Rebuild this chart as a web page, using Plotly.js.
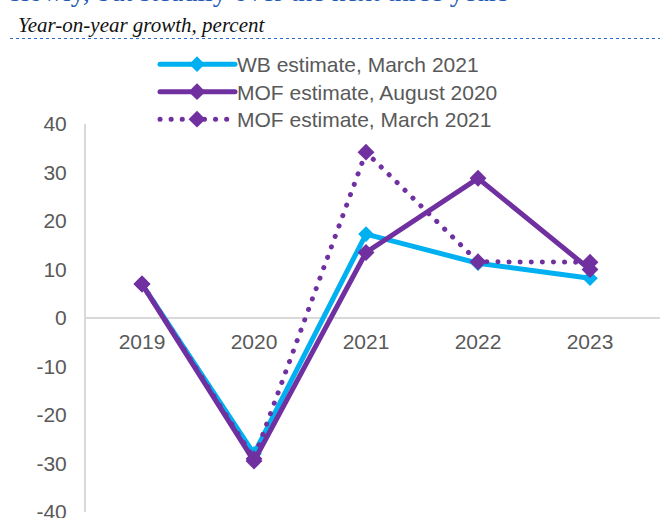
<!DOCTYPE html>
<html>
<head>
<meta charset="utf-8">
<script src="https://cdn.plot.ly/plotly-3.0.1.min.js"></script>
<style>
html, body { margin: 0; padding: 0; overflow: hidden; background: #fff; }
#chart { width: 660px; height: 560px; }
.scatterlayer .js-line, .legendlines .js-line { stroke-linecap: round; }
</style>
</head>
<body>
<div id="chart"></div>
<script>
const years = ['2019', '2020', '2021', '2022', '2023'];
const wbMar2021 = [7, -28, 17.3, 11.3, 8.2];
const mofAug2020 = [7, -29.5, 13.5, 28.8, 10];
const mofMar2021 = [7, -29, 34.2, 11.6, 11.5];
const seriesNames = ['WB estimate, March 2021', 'MOF estimate, August 2020', 'MOF estimate, March 2021'];
const yTicks = [-40, -30, -20, -10, 0, 10, 20, 30, 40];
const headline = 'slowly, but steadily over the next three years';
const subtitle = 'Year-on-year growth, percent';

const cyan = '#00B0F0';
const purple = '#7030A0';
const gray = '#595959';
const FS = 21;

const traces = [
  {
    x: years, y: wbMar2021, name: seriesNames[0], type: 'scatter', mode: 'lines+markers',
    line: { color: cyan, width: 5 },
    marker: { symbol: 'diamond', size: 12, color: cyan }
  },
  {
    x: years, y: mofAug2020, name: seriesNames[1], type: 'scatter', mode: 'lines+markers',
    line: { color: purple, width: 5 },
    marker: { symbol: 'diamond', size: 13, color: purple }
  },
  {
    x: years, y: mofMar2021, name: seriesNames[2], type: 'scatter', mode: 'lines+markers',
    line: { color: purple, width: 5, dash: '0.1px,11px' },
    marker: { symbol: 'diamond', size: 13, color: purple }
  }
];

const layout = {
  width: 660, height: 560,
  margin: { l: 86, r: 0, t: 124, b: 48 },
  paper_bgcolor: '#fff', plot_bgcolor: '#fff',
  font: { family: '"Liberation Sans", Arial, sans-serif', size: FS, color: gray },
  showlegend: true,
  legend: {
    x: (197 - 86) / 574, y: 1 + (124 - 44) / 388, xanchor: 'left', yanchor: 'top',
    font: { family: '"Liberation Sans", Arial, sans-serif', size: FS, color: gray },
    bgcolor: 'rgba(0,0,0,0)', itemwidth: 30, borderwidth: 0
  },
  xaxis: {
    type: 'category', range: [-0.5, 4.625],
    showline: false, showgrid: false, zeroline: false, ticks: '',
    anchor: 'free', position: 0.5,
    tickfont: { size: FS, color: gray },
    ticklabelstandoff: 9,
    fixedrange: true
  },
  yaxis: {
    range: [-40, 40], tickvals: yTicks, ticktext: yTicks.map(String),
    showline: true, linecolor: '#D9D9D9', linewidth: 2,
    showgrid: false, zeroline: true, zerolinecolor: '#D9D9D9', zerolinewidth: 2,
    ticks: '', tickfont: { size: FS, color: gray },
    ticklabelstandoff: 13,
    fixedrange: true
  },
  shapes: [
    { type: 'line', xref: 'paper', yref: 'paper', x0: -76 / 574, x1: 1, y0: 1 + (124 - 38.5) / 388, y1: 1 + (124 - 38.5) / 388,
      line: { color: '#2E6BC6', width: 1, dash: 'dot' } }
  ],
  annotations: [
    { text: headline, xref: 'paper', yref: 'paper', x: -78 / 574, y: 1 + (124 - 9.5) / 388,
      xanchor: 'left', yanchor: 'bottom', showarrow: false,
      font: { family: '"Liberation Serif", "Times New Roman", serif', size: 28, color: '#1F5AB4' } },
    { text: '<i>' + subtitle + '</i>', xref: 'paper', yref: 'paper', x: -70 / 574, y: 1 + (124 - 25) / 388,
      xanchor: 'left', yanchor: 'middle', showarrow: false,
      font: { family: '"Liberation Serif", "Times New Roman", serif', size: 21, color: '#111' } }
  ]
};

Plotly.newPlot('chart', traces, layout, { staticPlot: true, displayModeBar: false }).then(function (gd) {
  // Excel-style legend: longer swatches with the marker centred, tighter rows
  gd.querySelectorAll('.legend [clip-path]').forEach(function (el) { el.removeAttribute('clip-path'); });
  gd.querySelectorAll('.legend .legendlines path').forEach(function (p) { p.setAttribute('d', 'M-37,0h75'); });
  gd.querySelectorAll('.legend .legendpoints path').forEach(function (p) { p.setAttribute('transform', 'translate(0,0)'); });
  const items = gd.querySelectorAll('.legend .traces');
  if (items.length) {
    const m = /translate\(([-\d.]+),\s*([-\d.]+)\)/.exec(items[0].getAttribute('transform') || '');
    const x0 = m ? parseFloat(m[1]) : 0, y0 = m ? parseFloat(m[2]) : 0;
    items.forEach(function (it, i) { it.setAttribute('transform', 'translate(' + x0 + ',' + (y0 + i * 27.5) + ')'); });
  }
});
</script>
</body>
</html>
